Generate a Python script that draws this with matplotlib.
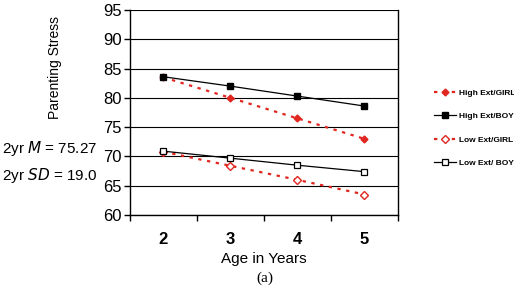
import matplotlib
matplotlib.use("Agg")
import matplotlib.pyplot as plt

ages = ["2", "3", "4", "5"]
high_girl = [83.5, 80.0, 76.5, 73.0]
high_boy = [83.6, 82.0, 80.3, 78.6]
low_girl = [70.8, 68.4, 66.0, 63.5]
low_boy = [70.9, 69.7, 68.5, 67.4]
yticks = [60, 65, 70, 75, 80, 85, 90, 95]

plt.rcParams['font.family'] = ['Liberation Sans', 'DejaVu Sans']

fig = plt.figure(figsize=(5.14, 2.85), dpi=100)
ax = fig.add_axes([0.2529, 0.2456, 0.5214, 0.7193])
x = list(range(len(ages)))

ax.plot(x, high_girl, color='#e0261f', ls=(0, (1.5, 2.5)), lw=1.6, marker='D', ms=3.5,
        mfc='#e0261f', mec='#e0261f', label='High Ext/GIRL', zorder=3)
ax.plot(x, high_boy, color='black', ls='-', lw=0.9, marker='s', ms=4.5,
        mfc='black', mec='black', label='High Ext/BOY', zorder=3)
ax.plot(x, low_girl, color='#e0261f', ls=(0, (1.5, 2.5)), lw=1.6, marker='D', ms=4,
        mfc='white', mec='#e0261f', mew=1, label='Low Ext/GIRL', zorder=3)
ax.plot(x, low_boy, color='black', ls='-', lw=0.9, marker='s', ms=5,
        mfc='white', mec='black', mew=0.9, label='Low Ext/ BOY', zorder=3)

ax.set_xlim(-0.5, 3.5)
ax.set_ylim(60, 95)
ax.set_yticks(yticks)
ax.set_xticks(x)
ax.set_xticklabels(ages, fontsize=12, fontweight='bold')
ax.set_xticks([-0.5, 0.5, 1.5, 2.5, 3.5], minor=True)
ax.tick_params(axis='x', which='major', length=0, pad=12)
ax.tick_params(axis='x', which='minor', length=4, width=1, direction='out')
ax.tick_params(axis='y', length=4, width=1, labelsize=12, direction='out', pad=2)
ax.yaxis.grid(True, color='black', lw=0.8)
ax.set_axisbelow(True)
for s in ['left', 'right', 'bottom']:
    ax.spines[s].set_linewidth(1)
ax.spines['top'].set_visible(False)

ax.set_xlabel('Age in Years', fontsize=11, labelpad=4)
ax.set_ylabel('Parenting Stress', fontsize=10, labelpad=8)
ax.yaxis.set_label_coords(-0.255, 0.72)

fig.legend(loc='upper left', bbox_to_anchor=(0.83, 0.713), frameon=False,
           handlelength=2.6, labelspacing=1.85, handletextpad=0.35,
           prop={'weight': 'bold', 'size': 6})

fig.text(0.003, 0.48, r'2yr $\mathit{M}$ = 75.27', fontsize=11, ha='left', va='center')
fig.text(0.003, 0.385, r'2yr $\mathit{SD}$ = 19.0', fontsize=11, ha='left', va='center')
fig.text(0.515, 0.025, '(a)', fontsize=11, family='Liberation Serif', ha='center', va='center')

fig.savefig('out.png', dpi=100)
